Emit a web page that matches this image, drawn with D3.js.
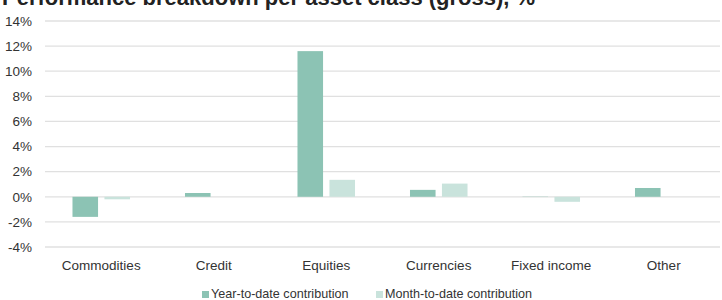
<!DOCTYPE html>
<html>
<head>
<meta charset="utf-8">
<script src="https://cdn.jsdelivr.net/npm/d3@7"></script>
<style>
  body { margin: 0; background: #fff; }
  svg text { font-family: "Liberation Sans", Arial, sans-serif; fill: #333; }
  .grid line { stroke: #e0e0e0; stroke-width: 1.3; }
</style>
</head>
<body>
<svg id="chart"></svg>
<script>
const WIDTH = 722;
const HEIGHT = 300;

const categories = ['Commodities', 'Credit', 'Equities', 'Currencies', 'Fixed income', 'Other'];
const ytd = [-1.6, 0.3, 11.6, 0.55, -0.02, 0.7];
const mtd = [-0.2, 0, 1.35, 1.05, -0.4, 0];
const seriesNames = ['Year-to-date contribution', 'Month-to-date contribution'];
const yTicks = [-4, -2, 0, 2, 4, 6, 8, 10, 12, 14];

const colors = ['#8cc3b4', '#c9e3dc'];
const margin = {top: 21, right: 2, bottom: 53, left: 45};

const svg = d3.select('#chart')
  .attr('width', WIDTH)
  .attr('height', HEIGHT);

const x = d3.scaleBand()
  .domain(categories)
  .range([margin.left, WIDTH - margin.right]);

const x1 = d3.scaleBand()
  .domain([0, 1])
  .range([0, x.bandwidth()])
  .paddingInner(0.2)
  .paddingOuter(0.86);

const y = d3.scaleLinear()
  .domain([-4, 14])
  .range([HEIGHT - margin.bottom, margin.top]);

// title (clipped at top like the original)
svg.append('text')
  .attr('x', 2)
  .attr('y', 4.5)
  .style('font-size', '22px')
  .style('font-weight', 'bold')
  .style('fill', '#222')
  .text('Performance breakdown per asset class (gross), %');

// gridlines
const grid = svg.append('g').attr('class', 'grid');
grid.selectAll('line')
  .data(yTicks)
  .enter().append('line')
  .attr('x1', margin.left)
  .attr('x2', WIDTH - margin.right)
  .attr('y1', d => y(d))
  .attr('y2', d => y(d));

// y tick labels
svg.selectAll('.ytick')
  .data(yTicks)
  .enter().append('text')
  .attr('class', 'ytick')
  .attr('x', 32)
  .attr('y', d => y(d))
  .attr('dy', '0.35em')
  .attr('text-anchor', 'end')
  .style('font-size', '13.5px')
  .text(d => d + '%');

// bars
const series = [ytd, mtd];
series.forEach((vals, i) => {
  svg.append('g').selectAll('rect')
    .data(vals)
    .enter().append('rect')
    .attr('x', (d, j) => x(categories[j]) + x1(i))
    .attr('width', x1.bandwidth())
    .attr('y', d => y(Math.max(0, d)))
    .attr('height', d => Math.abs(y(d) - y(0)))
    .attr('fill', colors[i]);
});

// category labels
svg.selectAll('.xlab')
  .data(categories)
  .enter().append('text')
  .attr('class', 'xlab')
  .attr('x', d => x(d) + x.bandwidth() / 2)
  .attr('y', 270)
  .attr('text-anchor', 'middle')
  .style('font-size', '13.5px')
  .text(d => d);

// legend
const legendX = [202, 376];
const legend = svg.selectAll('.legend')
  .data(seriesNames)
  .enter().append('g')
  .attr('class', 'legend')
  .attr('transform', (d, i) => `translate(${legendX[i]},291)`);

legend.append('rect')
  .attr('width', 7)
  .attr('height', 7)
  .attr('fill', (d, i) => colors[i]);

legend.append('text')
  .attr('x', 9)
  .attr('y', 6.8)
  .style('font-size', '12.6px')
  .text(d => d);
</script>
</body>
</html>
